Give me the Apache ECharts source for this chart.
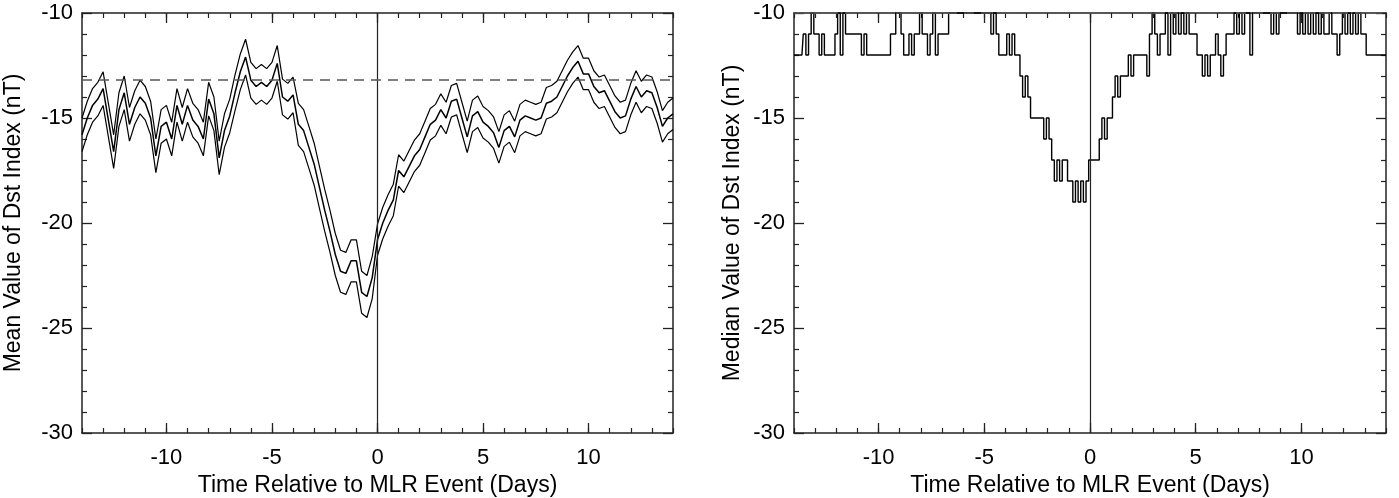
<!DOCTYPE html>
<html>
<head>
<meta charset="utf-8">
<script src="https://cdn.jsdelivr.net/npm/echarts@6/dist/echarts.min.js"></script>
<style>
  html, body { margin: 0; padding: 0; background: #fff; }
  #c { width: 1399px; height: 498px; }
</style>
</head>
<body>
<div id="c"></div>
<script>
// ---- data ----
const dayStart = -14;
const meanStep = 0.25;     // days between samples of the mean curves
const medianStep = 0.125;  // days between samples of the median curve

const xMajorTicks = [-10, -5, 0, 5, 10];

const meanDst = [
  -15.8, -15.0, -14.4, -14.1, -13.6, -15.1, -16.6, -14.6, -13.8, -15.3,
  -14.5, -14.0, -14.3, -15.0, -16.8, -15.4, -15.2, -16.0, -14.4, -15.3,
  -14.4, -15.1, -15.4, -16.0, -14.1, -14.8, -16.9, -15.6, -14.9, -13.8,
  -12.8, -12.1, -13.2, -13.5, -13.3, -13.5, -13.2, -12.4, -14.0, -14.2,
  -13.9, -15.3, -15.6, -16.4, -17.2, -18.3, -19.4, -20.4, -21.5, -22.3,
  -22.4, -21.8, -21.8, -23.3, -23.5, -22.6, -20.8, -20.0, -19.4, -18.9,
  -17.5, -17.8, -17.3, -16.8, -16.5, -15.9, -15.3, -15.1, -14.6, -15.0,
  -14.2, -14.1, -15.0, -15.9, -14.9, -14.7, -15.2, -15.4, -15.7, -16.4,
  -15.6, -15.4, -15.9, -15.1, -14.9, -15.0, -15.1, -15.0, -14.3, -14.2,
  -14.0, -13.5, -13.0, -12.6, -12.3, -12.9, -12.9, -13.5, -13.8, -13.7,
  -14.2, -14.7, -15.0, -14.9, -14.1, -13.5, -14.0, -13.7, -13.8, -14.5,
  -15.4, -15.0, -14.8
];

const upperDst = [
  -15.0, -14.2, -13.6, -13.3, -12.8, -14.3, -15.8, -13.8, -13.0, -14.5,
  -13.7, -13.2, -13.5, -14.2, -16.0, -14.6, -14.4, -15.2, -13.6, -14.5,
  -13.6, -14.3, -14.6, -15.2, -13.3, -14.0, -16.1, -14.8, -14.1, -12.95,
  -11.95, -11.25, -12.35, -12.65, -12.45, -12.65, -12.35, -11.55, -13.15, -13.35,
  -13.05, -14.3, -14.6, -15.4, -16.2, -17.3, -18.4, -19.4, -20.5, -21.3,
  -21.4, -20.8, -20.8, -22.3, -22.5, -21.6, -20.05, -19.25, -18.65, -18.15,
  -16.75, -17.05, -16.55, -16.05, -15.75, -15.15, -14.55, -14.35, -13.85, -14.25,
  -13.45, -13.35, -14.25, -15.15, -14.15, -13.95, -14.45, -14.65, -14.95, -15.65,
  -14.85, -14.65, -15.15, -14.35, -14.15, -14.25, -14.35, -14.25, -13.55, -13.45,
  -13.25, -12.75, -12.25, -11.85, -11.55, -12.15, -12.15, -12.75, -13.05, -12.95,
  -13.45, -13.95, -14.25, -14.15, -13.35, -12.75, -13.25, -12.95, -13.05, -13.75,
  -14.65, -14.25, -14.05
];

const lowerDst = [
  -16.6, -15.8, -15.2, -14.9, -14.4, -15.9, -17.4, -15.4, -14.6, -16.1,
  -15.3, -14.8, -15.1, -15.8, -17.6, -16.2, -16.0, -16.8, -15.2, -16.1,
  -15.2, -15.9, -16.2, -16.8, -14.9, -15.6, -17.7, -16.4, -15.7, -14.65,
  -13.65, -12.95, -14.05, -14.35, -14.15, -14.35, -14.05, -13.25, -14.85, -15.05,
  -14.75, -16.3, -16.6, -17.4, -18.2, -19.3, -20.4, -21.4, -22.5, -23.3,
  -23.4, -22.8, -22.8, -24.3, -24.5, -23.6, -21.55, -20.75, -20.15, -19.65,
  -18.25, -18.55, -18.05, -17.55, -17.25, -16.65, -16.05, -15.85, -15.35, -15.75,
  -14.95, -14.85, -15.75, -16.65, -15.65, -15.45, -15.95, -16.15, -16.45, -17.15,
  -16.35, -16.15, -16.65, -15.85, -15.65, -15.75, -15.85, -15.75, -15.05, -14.95,
  -14.75, -14.25, -13.75, -13.35, -13.05, -13.65, -13.65, -14.25, -14.55, -14.45,
  -14.95, -15.45, -15.75, -15.65, -14.85, -14.25, -14.75, -14.45, -14.55, -15.25,
  -16.15, -15.75, -15.55
];

const medianDst = [
  -12, -12, -12, -12, -11, -12, -11, -10, -11, -11,
  -12, -11, -12, -12, -12, -12, -11, -10, -12, -10,
  -11, -11, -11, -11, -11, -11, -12, -11, -12, -12,
  -12, -12, -12, -12, -12, -12, -12, -11, -11, -10,
  -10, -11, -12, -12, -11, -12, -11, -11, -10, -11,
  -11, -12, -11, -10, -12, -11, -11, -11, -11, -10,
  -10, -10, -10, -10, -10, -10, -10, -10, -10, -10,
  -10, -10, -10, -10, -10, -11, -10, -11, -12, -12,
  -12, -11, -12, -11, -12, -12, -13, -14, -13, -14,
  -15, -15, -15, -15, -15, -16, -15, -16, -17, -18,
  -17, -18, -17, -17, -18, -18, -19, -18, -19, -18,
  -19, -18, -17, -17, -17, -17, -16, -15, -16, -15,
  -15, -14, -13, -14, -13, -13, -13, -12, -13, -12,
  -12, -12, -12, -12, -13, -11, -10, -11, -12, -11,
  -11, -10, -12, -10, -11, -10, -11, -10, -11, -10,
  -11, -11, -11, -12, -12, -13, -12, -13, -12, -12,
  -11, -12, -13, -12, -11, -11, -11, -10, -11, -10,
  -11, -10, -10, -12, -10, -10, -10, -10, -10, -10,
  -10, -11, -10, -11, -10, -10, -10, -10, -10, -10,
  -10, -11, -10, -11, -10, -11, -10, -11, -10, -11,
  -10, -11, -11, -10, -11, -11, -12, -11, -10, -11,
  -10, -11, -10, -11, -10, -11, -11, -12, -12, -12,
  -12, -12, -12, -12, -12
];

const meanReference = -13.2;   // dashed level, left panel
const medianReference = -10;   // dashed level, right panel

// ---- build series data ----
function pairs(values, step) {
  return values.map((v, i) => [dayStart + i * step, v]);
}

const FONT = 'Liberation Sans, Arial, Helvetica, sans-serif';
const AX = '#222';
const TICK_FS = 22;
const NAME_FS = 23;

function xAxes(grid) {
  const base = {
    gridIndex: grid, type: 'value', min: -14, max: 14,
    splitLine: { show: false }
  };
  const major = (pos, labels) => Object.assign({}, base, {
    position: pos,
    axisLine: { show: true, onZero: false, lineStyle: { color: AX, width: 1.5 } },
    axisTick: { show: true, inside: true, length: 10, customValues: xMajorTicks, lineStyle: { color: AX, width: 1.3 } },
    axisLabel: labels
      ? { show: true, customValues: xMajorTicks, fontSize: TICK_FS, color: '#000', fontFamily: FONT, margin: 14 }
      : { show: false },
    name: labels ? 'Time Relative to MLR Event (Days)' : '',
    nameLocation: 'middle', nameGap: 33,
    nameTextStyle: { fontSize: NAME_FS, color: '#000', fontFamily: FONT }
  });
  const minor = (pos) => Object.assign({}, base, {
    position: pos, interval: 1,
    axisLine: { show: false, onZero: false },
    axisTick: { show: true, inside: true, length: 5, lineStyle: { color: AX, width: 1.2 } },
    axisLabel: { show: false }
  });
  return [major('bottom', true), minor('bottom'), major('top', false), minor('top')];
}

function yAxes(grid, name, gap) {
  const base = {
    gridIndex: grid, type: 'value', min: -30, max: -10, interval: 5,
    splitLine: { show: false },
    axisLine: { show: true, onZero: false, lineStyle: { color: AX, width: 1.5 } },
    axisTick: { show: true, inside: true, length: 10, lineStyle: { color: AX, width: 1.3 } },
    minorTick: { show: true, splitNumber: 5, length: 5, lineStyle: { color: AX, width: 1.2 } }
  };
  return [
    Object.assign({}, base, {
      position: 'left',
      axisLabel: { show: true, fontSize: TICK_FS, color: '#000', fontFamily: FONT, margin: 9 },
      name: name, nameLocation: 'middle', nameGap: gap, nameRotate: 90,
      nameTextStyle: { fontSize: NAME_FS, color: '#000', fontFamily: FONT }
    }),
    Object.assign({}, base, { position: 'right', axisLabel: { show: false } })
  ];
}

function refLines(level) {
  return {
    silent: true, symbol: 'none', animation: false,
    label: { show: false },
    data: [
      { xAxis: 0, lineStyle: { type: 'solid', color: '#222', width: 1.2 } },
      { yAxis: level, lineStyle: { type: [10, 7], color: '#555', width: 1.6 } }
    ]
  };
}

const lineSeries = (data, xi, yi, width, extra) => Object.assign({
  type: 'line', xAxisIndex: xi, yAxisIndex: yi, data: data,
  showSymbol: false, symbol: 'none', animation: false,
  lineStyle: { color: '#000', width: width }
}, extra || {});

const option = {
  backgroundColor: '#fff',
  animation: false,
  grid: [
    { left: 82, top: 13, width: 591, height: 420, containLabel: false, outerBoundsMode: 'none' },
    { left: 794, top: 13, width: 592, height: 420, containLabel: false, outerBoundsMode: 'none' }
  ],
  xAxis: [].concat(xAxes(0), xAxes(1)),
  yAxis: [].concat(yAxes(0, 'Mean Value of Dst Index (nT)', 57), yAxes(1, 'Median Value of Dst Index (nT)', 50)),
  series: [
    lineSeries(pairs(upperDst, meanStep), 0, 0, 1.2),
    lineSeries(pairs(lowerDst, meanStep), 0, 0, 1.2),
    lineSeries(pairs(meanDst, meanStep), 0, 0, 1.5, { markLine: refLines(meanReference) }),
    lineSeries(pairs(medianDst, medianStep), 4, 2, 1.4, { step: 'middle', clip: false, markLine: refLines(medianReference) })
  ]
};

const chart = echarts.init(document.getElementById('c'), null, { renderer: 'canvas' });
chart.setOption(option);
</script>
</body>
</html>
